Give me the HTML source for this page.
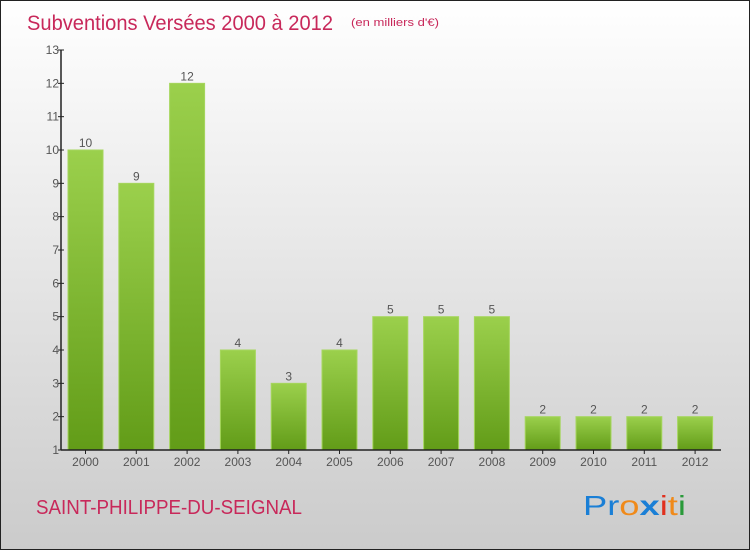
<!DOCTYPE html>
<html><head><meta charset="utf-8"><style>
html,body{margin:0;padding:0;}
body{width:750px;height:550px;overflow:hidden;font-family:"Liberation Sans",sans-serif;}
</style></head><body>
<svg id="chart" width="750" height="550" xmlns="http://www.w3.org/2000/svg">
<defs>
<linearGradient id="bg" x1="0" y1="0" x2="0" y2="1"><stop offset="0" stop-color="#ffffff"/><stop offset="1" stop-color="#cbcbcb"/></linearGradient>
<linearGradient id="bar" x1="0" y1="0" x2="0" y2="1"><stop offset="0" stop-color="#9bd04c"/><stop offset="1" stop-color="#629c18"/></linearGradient>
</defs>
<rect x="0.5" y="0.5" width="749" height="549" fill="url(#bg)" stroke="#222" stroke-width="1"/>
<text x="27" y="30" font-size="21" fill="#c8285a" textLength="306" lengthAdjust="spacingAndGlyphs">Subventions Versées 2000 à 2012</text>
<text x="351" y="26" font-size="11" fill="#c8285a" textLength="88" lengthAdjust="spacingAndGlyphs">(en milliers d'€)</text>
<text x="36" y="514" font-size="20" fill="#c8285a" textLength="266" lengthAdjust="spacingAndGlyphs">SAINT-PHILIPPE-DU-SEIGNAL</text>
<g font-size="28" font-family="'Liberation Sans',sans-serif">
<text x="583" y="515" textLength="103" lengthAdjust="spacingAndGlyphs"><tspan fill="#1a7fd6">Pr</tspan><tspan fill="#f08a1a">o</tspan><tspan fill="#1a7fd6" font-weight="bold">x</tspan><tspan fill="#e0301e">i</tspan><tspan fill="#f08a1a">t</tspan><tspan fill="#2a9a3a">i</tspan></text>
</g>
<g id="plot"></g>
</svg>
<script>
const categories=["2000","2001","2002","2003","2004","2005","2006","2007","2008","2009","2010","2011","2012"];
const values=[10,9,12,4,3,4,5,5,5,2,2,2,2];
const yTicks=[1,2,3,4,5,6,7,8,9,10,11,12,13];
const NS="http://www.w3.org/2000/svg";
const g=document.getElementById('plot');
const x0=61,x1=721,yBase=450,yMin=1,yMax=13,yTop=50;
function y(v){return yBase-(v-yMin)*(yBase-yTop)/(yMax-yMin);}
function xc(i){return x0+24.5+i*50.8;}
function mk(tag,attrs){const e=document.createElementNS(NS,tag);for(const k in attrs)e.setAttribute(k,attrs[k]);g.appendChild(e);return e;}
values.forEach((v,i)=>{
 const r=mk('rect',{x:xc(i)-17.5,y:y(v),width:35,height:yBase-y(v),fill:'url(#bar)',stroke:'#a6d65e','stroke-width':1});
 
 
 const t=mk('text',{x:xc(i),y:y(v)-3,'font-size':12,fill:'#555','text-anchor':'middle'});
 t.textContent=v;
 
 
 const tk=mk('line',{x1:xc(i),x2:xc(i),y1:yBase,y2:yBase+4,stroke:'#222'});
 
 
 const xl=mk('text',{x:xc(i),y:yBase+16,'font-size':12,fill:'#555','text-anchor':'middle'});
 xl.textContent=categories[i];
 
 
});
yTicks.forEach(v=>{
 const l=mk('line',{x1:x0-3,x2:x0+3,y1:y(v),y2:y(v),stroke:'#222'});
 
 
 const t=mk('text',{x:x0-2,y:y(v)+4,'font-size':12,fill:'#555','text-anchor':'end'});
 t.textContent=v;
 
 
});
const ya=mk('line',{x1:x0,x2:x0,y1:yTop,y2:yBase,stroke:'#222','stroke-width':1.5});


const xa=mk('line',{x1:x0,x2:x1,y1:yBase,y2:yBase,stroke:'#222','stroke-width':1.5});


</script>
</body></html>
